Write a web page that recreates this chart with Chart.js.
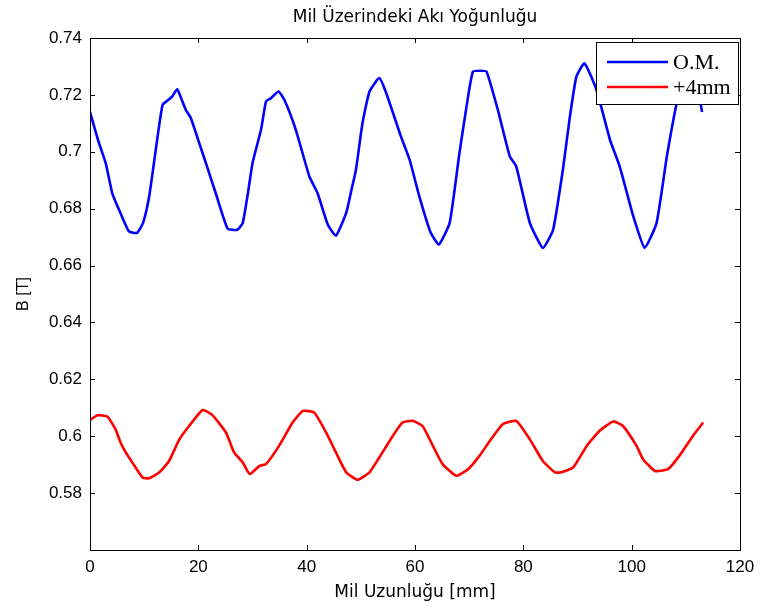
<!DOCTYPE html>
<html>
<head>
<meta charset="utf-8">
<title>Mil Üzerindeki Akı Yoğunluğu</title>
<script src="https://cdn.jsdelivr.net/npm/chart.js@4/dist/chart.umd.min.js"></script>
<style>
  html, body { margin:0; padding:0; background:#fff; }
  #wrap { width:763px; height:612px; }
</style>
</head>
<body>
<div id="wrap"><canvas id="chart" width="763" height="612"></canvas></div>
<script>
// axis positions along the shaft (mm) and flux density (T)
const omX  = [0, 1.5, 2.9, 4.1, 5.5, 7.2, 8.7, 9.8, 10.9, 11.8, 12.6, 13.4, 14.3, 15.2, 16.1, 17.0, 17.7, 18.6,
              20.0, 21.4, 23.2, 25.4, 27.2, 28.2, 29.2, 30.0, 31.6, 32.5, 33.4, 34.8, 35.9, 38.0, 40.5, 42.0,
              43.9, 45.4, 47.3, 48.2, 49.1, 50.3, 51.6, 53.4, 54.7, 57.4, 59.0, 60.8, 62.8, 64.4, 66.4, 68.2,
              69.8, 70.7, 72.0, 73.2, 75.3, 77.5, 78.7, 81.2, 83.6, 85.5, 87.3, 88.6, 89.8, 91.3, 93.5, 96.0,
              97.8, 100.3, 102.4, 104.6, 106.5, 108.3, 109.6, 110.8, 112.2, 113.0]
const omB  = [0.714, 0.704, 0.696, 0.6855, 0.679, 0.672, 0.6715, 0.675, 0.684, 0.696, 0.707, 0.7165, 0.718, 0.7195,
              0.722, 0.718, 0.7147, 0.712, 0.704, 0.696, 0.6855, 0.673, 0.6726, 0.675, 0.686, 0.696, 0.708, 0.7177,
              0.7188, 0.7212, 0.7182, 0.7077, 0.6913, 0.6855, 0.6744, 0.6705, 0.6785, 0.686, 0.6937, 0.710, 0.7212,
              0.7259, 0.7206, 0.7054, 0.6972, 0.6843, 0.672, 0.6674, 0.675, 0.6995, 0.7194, 0.7282, 0.7285, 0.7282,
              0.7147, 0.6984, 0.6948, 0.675, 0.6662, 0.6726, 0.6937, 0.7124, 0.7264, 0.7311, 0.7218, 0.7042, 0.6948,
              0.6773, 0.6662, 0.675, 0.6984, 0.7171, 0.727, 0.730, 0.722, 0.714]

const mm4X = [0, 1.4, 3.2, 4.7, 5.6, 6.6, 7.8, 9.7, 10.9, 12.8, 14.6, 16.5, 18.3, 20.8, 22.6, 25.1, 26.6, 28.2,
              29.5, 31.3, 32.5, 34.9, 37.4, 39.3, 41.4, 43.6, 45.4, 47.3, 49.4, 51.6, 53.4, 55.9, 57.7, 59.6,
              61.4, 63.3, 65.1, 67.6, 69.8, 71.9, 73.8, 76.2, 78.7, 81.2, 83.6, 85.8, 87.0, 89.2, 91.7, 94.1,
              96.6, 98.4, 100.9, 102.1, 104.3, 106.7, 108.8, 111.3, 113.2]
const mm4B = [0.6057, 0.6074, 0.6069, 0.6025, 0.598, 0.5943, 0.5908, 0.5855, 0.5852, 0.5873, 0.5913, 0.5989, 0.6036,
              0.6092, 0.6074, 0.6013, 0.5943, 0.5908, 0.5867, 0.5896, 0.5902, 0.5966, 0.6048, 0.6089, 0.6083, 0.6013,
              0.5943, 0.5873, 0.5847, 0.5873, 0.5925, 0.6001, 0.6048, 0.6054, 0.6036, 0.5966, 0.5902, 0.5861, 0.5884,
              0.5931, 0.5983, 0.6042, 0.6054, 0.5989, 0.5913, 0.5873, 0.5873, 0.5890, 0.5966, 0.6019, 0.6052, 0.6036,
              0.5966, 0.5919, 0.5878, 0.5884, 0.5931, 0.6001, 0.6048]

const seriesNames = ['O.M.', '+4mm']
const chartTitle = 'Mil Üzerindeki Akı Yoğunluğu'
const xRange = [0, 120], xStep = 20
const yRange = [0.56, 0.74], yStep = 0.02

const pts = (xs, ys) => xs.map((x, i) => ({ x, y: ys[i] }))

// MATLAB-style box: frame + inward ticks on all four sides, title over the axes, legend inside
const boxPlugin = {
  id: 'box',
  afterDatasetsDraw(chart) {
    const { ctx, chartArea: a, scales: { x, y } } = chart
    const tl = 5
    ctx.save()
    ctx.strokeStyle = '#000'
    ctx.lineWidth = 1
    ctx.beginPath()
    x.ticks.forEach(t => {
      const px = Math.round(x.getPixelForValue(t.value)) + .5
      ctx.moveTo(px, a.bottom); ctx.lineTo(px, a.bottom - tl)
      ctx.moveTo(px, a.top);    ctx.lineTo(px, a.top + tl)
    })
    y.ticks.forEach(t => {
      const py = Math.round(y.getPixelForValue(t.value)) + .5
      ctx.moveTo(a.left, py);  ctx.lineTo(a.left + tl, py)
      ctx.moveTo(a.right, py); ctx.lineTo(a.right - tl, py)
    })
    ctx.stroke()
    ctx.strokeRect(Math.round(a.left) + .5, Math.round(a.top) + .5, Math.round(a.right - a.left), Math.round(a.bottom - a.top))
    ctx.restore()
  },
  afterDraw(chart) {
    const { ctx, chartArea: a } = chart
    ctx.save()
    // title, centred over the axes
    ctx.fillStyle = '#000'
    ctx.font = '17px "DejaVu Sans", sans-serif'
    ctx.textAlign = 'center'
    ctx.textBaseline = 'alphabetic'
    ctx.fillText(chartTitle, (a.left + a.right) / 2, 22)

    // legend box in the top-right corner
    const w = 142, h = 62
    const bx = a.right - 2 - w, by = a.top + 4
    ctx.fillStyle = '#fff'
    ctx.fillRect(bx, by, w, h)
    ctx.strokeStyle = '#000'
    ctx.lineWidth = 1
    ctx.strokeRect(Math.round(bx) + .5, Math.round(by) + .5, w, h)
    ctx.font = '22px "Liberation Serif", "Times New Roman", serif'
    ctx.textAlign = 'left'
    ctx.textBaseline = 'middle'
    chart.data.datasets.forEach((ds, i) => {
      const cy = by + 20 + i * 25
      ctx.strokeStyle = ds.borderColor
      ctx.lineWidth = 2.6
      ctx.beginPath()
      ctx.moveTo(bx + 11, cy); ctx.lineTo(bx + 72, cy)
      ctx.stroke()
      ctx.fillStyle = '#000'
      ctx.fillText(ds.label, bx + 77, cy + 1)
    })
    ctx.restore()
  }
}

const tickFont  = { family: '"Liberation Sans", Arial, sans-serif', size: 17 }
const xLabFont  = { family: '"DejaVu Sans", sans-serif', size: 17 }
const yLabFont  = { family: '"Liberation Sans", Arial, sans-serif', size: 16 }

new Chart(document.getElementById('chart'), {
  type: 'line',
  data: {
    datasets: [
      { label: seriesNames[0], data: pts(omX, omB),   borderColor: '#0000ff', borderWidth: 2.6, pointRadius: 0, tension: 0.15, fill: false },
      { label: seriesNames[1], data: pts(mm4X, mm4B), borderColor: '#ff0000', borderWidth: 2.6, pointRadius: 0, tension: 0.15, fill: false },
    ],
  },
  options: {
    responsive: false,
    animation: false,
    layout: { padding: { left: 0, right: 23, top: 38, bottom: 0 } },
    plugins: {
      legend: { display: false },
      tooltip: { enabled: false },
      title: { display: false, text: chartTitle },
    },
    scales: {
      x: {
        type: 'linear', min: xRange[0], max: xRange[1],
        afterFit: s => { s.height = 62 },
        grid: { display: false, drawTicks: false },
        border: { display: false },
        ticks: { stepSize: xStep, color: '#000', font: tickFont, padding: 7, maxRotation: 0 },
        title: { display: true, text: 'Mil Uzunluğu [mm]', color: '#000', font: xLabFont, padding: { top: 0, bottom: 9 } },
      },
      y: {
        type: 'linear', min: yRange[0], max: yRange[1],
        afterFit: s => { s.width = 90 },
        grid: { display: false, drawTicks: false },
        border: { display: false },
        ticks: {
          stepSize: yStep, color: '#000', font: tickFont, padding: 8,
          callback: v => (Math.abs(v - yRange[0]) < 1e-9 ? '' : String(+v.toFixed(2))),
        },
        title: { display: true, text: 'B [T]', color: '#000', font: yLabFont, padding: { top: 14, bottom: 0 } },
      },
    },
  },
  plugins: [boxPlugin],
})
</script>
</body>
</html>
